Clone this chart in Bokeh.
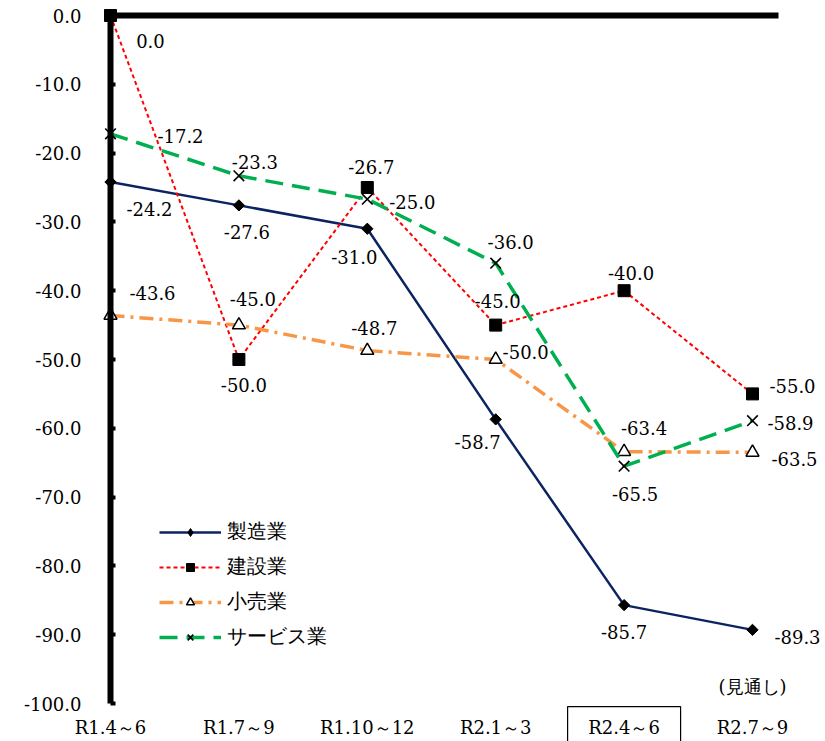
import math
from bokeh.plotting import figure
from bokeh.models import (Range1d, FixedTicker, PrintfTickFormatter, LabelSet, LinearAxis,
                          ColumnDataSource, BoxAnnotation, Label)
from bokeh.core.properties import value
from bokeh.embed import file_html
from bokeh.resources import INLINE

# ---------------- data ----------------
categories = ["R1.4～6", "R1.7～9", "R1.10～12", "R2.1～3", "R2.4～6", "R2.7～9"]
series_names = ["製造業", "建設業", "小売業", "サービス業"]
manufacturing = [-24.2, -27.6, -31.0, -58.7, -85.7, -89.3]
construction = [0.0, -50.0, -25.0, -45.0, -40.0, -55.0]
retail = [-43.6, -45.0, -48.7, -50.0, -63.4, -63.5]
services = [-17.2, -23.3, -26.7, -36.0, -65.5, -58.9]
y_ticks = [0, -10, -20, -30, -40, -50, -60, -70, -80, -90, -100]
forecast_note = "(見通し)"
highlight_category = "R2.4～6"

# ---------------- styles ----------------
FONT = "DejaVu Serif"
FS = "18px"
styles = [
    dict(color="#0B2461", dash="solid", width=2.5, marker="square", size=8, angle=math.pi / 4,
         fill="black", mline=1),
    dict(color="#FF0000", dash="4 3", width=2, marker="square", size=12, angle=0,
         fill="black", mline=1),
    dict(color="#F79646", dash="14 6 3 6", width=3.5, marker="triangle", size=13, angle=0,
         fill="white", mline=1.5),
    dict(color="#00B050", dash="18 9", width=3.5, marker="x", size=15, angle=0,
         fill="black", mline=1.6),
]
# label offsets in pixels (dx right, dy down) from each point
label_offsets = [
    [(39, 27), (8, 27), (-13, 28), (-18, 23), (0, 27), (45, 7)],
    [(40, 25), (5, 25), (45, 14), (2, -24), (7, -18), (40, -8)],
    [(42, -22), (14, -26), (7, -23), (30, -8), (20, -24), (42, 7)],
    [(70, 2), (16, -14), (4, -32), (15, -21), (11, 28), (38, 2)],
]

all_series = [manufacturing, construction, retail, services]
xs = list(range(len(categories)))

W, H = 825, 741
X0_PX, XSTEP = 110.0, 128.4
Y0_PX, YSTEP = 15.0, 6.88
x_range = Range1d(-X0_PX / XSTEP, (W - X0_PX) / XSTEP)
y_range = Range1d(-100 - (H - (Y0_PX + 100 * YSTEP)) / YSTEP, Y0_PX / YSTEP)

p = figure(width=W, height=H, output_backend="svg", toolbar_location=None,
           x_range=x_range, y_range=y_range, x_axis_location=None, y_axis_location=None,
           min_border_left=0, min_border_right=0, min_border_top=0, min_border_bottom=0)
p.outline_line_color = None
p.xgrid.grid_line_color = None
p.ygrid.grid_line_color = None
p.background_fill_color = "white"

# value axis crossing at the first category
ya = LinearAxis(fixed_location=0, bounds=(-100, 0))
ya.ticker = FixedTicker(ticks=y_ticks)
ya.formatter = PrintfTickFormatter(format="%.1f")
ya.axis_line_width = 6
ya.axis_line_color = "black"
ya.major_tick_in = 5
ya.major_tick_out = 0
ya.major_tick_line_width = 4
ya.minor_tick_line_color = None
ya.major_label_standoff = 29
ya.major_label_text_font = FONT
ya.major_label_text_font_size = FS
ya.major_label_text_color = "black"
p.add_layout(ya, "left")

# category labels below -100
xa = LinearAxis(fixed_location=-100)
xa.ticker = FixedTicker(ticks=xs)
xa.major_label_overrides = {i: c for i, c in enumerate(categories)}
xa.axis_line_color = None
xa.major_tick_line_color = None
xa.minor_tick_line_color = None
xa.major_tick_out = 0
xa.major_tick_in = 0
xa.major_label_standoff = 13
xa.major_label_text_font = FONT
xa.major_label_text_font_size = FS
xa.major_label_text_color = "black"
p.add_layout(xa, "below")

# thick line along value 0
za = LinearAxis(fixed_location=0, bounds=(0, 5.2))
za.ticker = FixedTicker(ticks=[])
za.axis_line_width = 6
za.axis_line_color = "black"
za.major_tick_line_color = None
za.minor_tick_line_color = None
za.major_label_text_font_size = "0px"
p.add_layout(za, "above")

nan = float("nan")
lx, ly, lt, ldx, ldy = [], [], [], [], []
for i, (name, ys, st, offs) in enumerate(zip(series_names, all_series, styles, label_offsets)):
    p.line(xs, ys, line_color=st["color"], line_width=st["width"], line_dash=st["dash"],
           legend_label=name)
    if i == 0:
        p.scatter(xs, ys, marker=st["marker"], size=st["size"], angle=st["angle"],
                  fill_color=st["fill"], line_color="black", line_width=st["mline"])
        # legend swatch only (diamond), no data point
        p.scatter([nan], [nan], marker="diamond", size=15, fill_color="black",
                  line_color="black", line_width=1, legend_label=name)
    else:
        p.scatter(xs, ys, marker=st["marker"], size=st["size"], angle=st["angle"],
                  fill_color=st["fill"], line_color="black", line_width=st["mline"],
                  legend_label=name)
    for x, y, (dx, dy) in zip(xs, ys, offs):
        lx.append(x); ly.append(y); lt.append(f"{y:.1f}")
        ldx.append(dx); ldy.append(-dy)

src = ColumnDataSource(dict(x=lx, y=ly, text=lt, dx=ldx, dy=ldy))
p.add_layout(LabelSet(x="x", y="y", text="text", x_offset="dx", y_offset="dy", source=src,
                      text_font=value(FONT), text_font_size=FS, text_color="black",
                      text_align="center", text_baseline="middle"))

p.add_layout(Label(x=xs[-1], y=-97.5, text=forecast_note, text_font=FONT, text_font_size=FS,
                   text_align="center", text_baseline="middle", text_color="black"))

hi = categories.index(highlight_category)
p.add_layout(BoxAnnotation(left=hi - 0.44, right=hi + 0.44, top=-100.45, bottom=-110,
                           fill_color=None, fill_alpha=0, line_color="black", line_alpha=1,
                           line_width=1.2))

lg = p.legend[0]
lg.location = (159, 91)
lg.border_line_color = None
lg.background_fill_alpha = 0
lg.margin = 0
lg.padding = 5
lg.spacing = 8
lg.glyph_width = 62
lg.glyph_height = 20
lg.label_height = 20
lg.label_standoff = 6
lg.label_text_font = FONT
lg.label_text_font_size = "20px"
lg.label_text_color = "black"

open("out.html", "w").write(file_html(p, INLINE))
